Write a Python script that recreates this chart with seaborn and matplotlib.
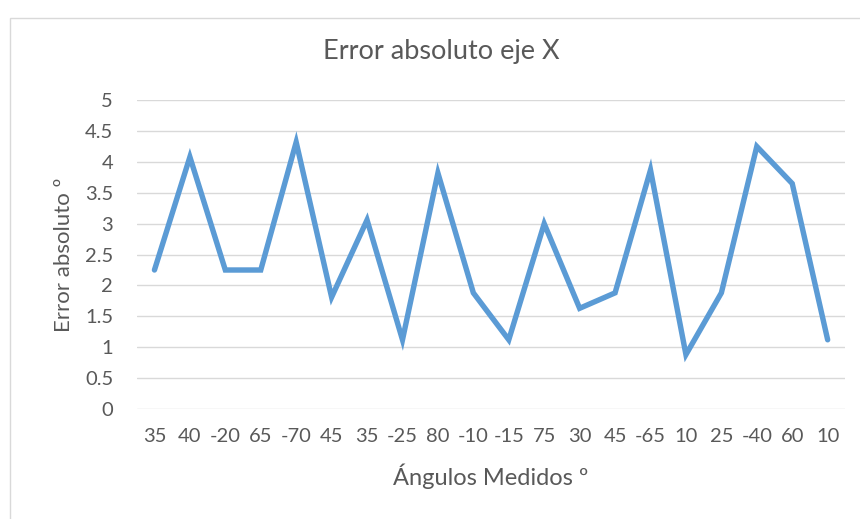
import numpy as np
import pandas as pd
import matplotlib
matplotlib.use("Agg")
import matplotlib.pyplot as plt
from matplotlib.patches import Rectangle
import seaborn as sns

# Measured angles (category labels, in measurement order)
angles = ["35", "40", "-20", "65", "-70", "45", "35", "-25", "80", "-10",
          "-15", "75", "30", "45", "-65", "10", "25", "-40", "60", "10"]
# Absolute error on the X axis for each measurement (degrees)
abs_error = [2.25, 4.08, 2.25, 2.25, 4.32, 1.81, 3.06, 1.12, 3.82, 1.88,
             1.12, 3.00, 1.63, 1.88, 3.87, 0.88, 1.88, 4.25, 3.65, 1.12]
y_ticks = [0, 0.5, 1, 1.5, 2, 2.5, 3, 3.5, 4, 4.5, 5]
y_tick_labels = ["0", "0.5", "1", "1.5", "2", "2.5", "3", "3.5", "4", "4.5", "5"]

sns.set_theme(style="white")
plt.rcParams["font.family"] = ["Lato", "DejaVu Sans"]

text_color = "#595959"
grid_color = "#D9D9D9"
line_color = "#5B9BD5"

df = pd.DataFrame({"pos": np.arange(len(angles)), "error": abs_error})

fig = plt.figure(figsize=(8.6, 5.19), dpi=100)
ax = fig.add_axes([0.159, 0.212, 0.824, 0.595])

# Outer chart frame
fig.patches.append(Rectangle((10 / 860, -0.1), 1.2, 1 - 18 / 519 + 0.1,
                             transform=fig.transFigure, fill=False,
                             edgecolor=grid_color, linewidth=1.0))

sns.lineplot(data=df, x="pos", y="error", sort=False, ax=ax,
             color=line_color, linewidth=3.9, solid_joinstyle="miter",
             solid_capstyle="round")

ax.set_xlim(-0.5, len(angles) - 0.5)
ax.set_ylim(0, 5)
ax.set_yticks(y_ticks, y_tick_labels)
ax.set_xticks(df["pos"], angles)
for y in y_ticks:
    ax.axhline(y, color=grid_color, linewidth=1.0, zorder=0)

for side in ["top", "right", "left", "bottom"]:
    ax.spines[side].set_visible(False)

ax.tick_params(axis="y", length=0, pad=17, labelsize=14.5, labelcolor=text_color)
ax.tick_params(axis="x", length=0, pad=14, labelsize=14.5, labelcolor=text_color)

ax.set_xlabel("Ángulos Medidos º", fontsize=17, color=text_color, labelpad=13)
ax.set_ylabel("Error absoluto º", fontsize=16, color=text_color, labelpad=8)
fig.text(441 / 860, 1 - 51 / 519, "Error absoluto eje X", ha="center", va="center",
         fontsize=19.5, color=text_color)

fig.savefig("out.png", dpi=100)
